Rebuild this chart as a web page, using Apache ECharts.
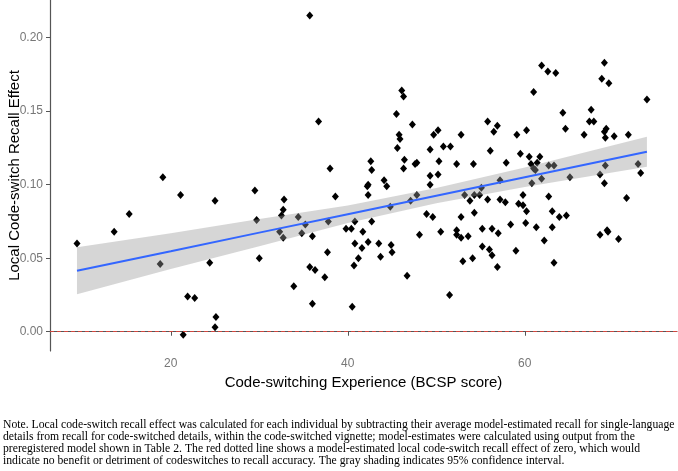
<!DOCTYPE html>
<html>
<head>
<meta charset="utf-8">
<script src="https://cdn.jsdelivr.net/npm/echarts@6/dist/echarts.min.js"></script>
<style>
  html, body { margin: 0; padding: 0; background: #fff; }
  #main { width: 678px; height: 471px; }
</style>
</head>
<body>
<div id="main"></div>
<script>
var myChart = echarts.init(document.getElementById('main'));

// BCSP score, local code-switch recall effect (one point per participant)
var points = [
    [9.4, 0.060], [13.6, 0.068], [15.3, 0.080], [19.1, 0.105], [21.1, 0.093], [25.0, 0.089],
    [18.8, 0.046], [24.4, 0.047], [21.9, 0.024], [22.7, 0.023], [25.1, 0.010], [25.0, 0.003],
    [21.4, -0.002], [35.7, 0.215], [46.1, 0.164], [46.3, 0.160], [45.5, 0.148], [47.3, 0.141],
    [36.7, 0.143], [50.2, 0.137], [49.7, 0.134], [45.8, 0.134], [45.9, 0.131], [45.6, 0.125],
    [49.3, 0.124], [50.8, 0.126], [51.6, 0.126], [52.3, 0.114], [50.3, 0.116], [46.4, 0.117],
    [47.8, 0.115], [47.6, 0.114], [46.3, 0.111], [38.0, 0.111], [42.6, 0.116], [42.7, 0.110],
    [50.2, 0.107], [49.3, 0.106], [49.3, 0.100], [44.1, 0.103], [44.4, 0.099], [42.3, 0.100],
    [42.2, 0.099], [42.3, 0.093], [29.5, 0.096], [32.8, 0.090], [38.6, 0.092], [47.8, 0.093],
    [61.9, 0.181], [62.6, 0.177], [63.5, 0.176], [69.0, 0.183], [68.7, 0.172], [69.5, 0.169],
    [61.0, 0.163], [73.8, 0.158], [64.3, 0.149], [67.5, 0.151], [67.3, 0.143], [67.8, 0.143],
    [64.6, 0.138], [55.8, 0.143], [56.9, 0.140], [56.5, 0.136], [52.8, 0.134], [59.1, 0.134],
    [60.2, 0.137], [66.7, 0.134], [69.2, 0.138], [69.0, 0.136], [69.1, 0.132], [70.1, 0.133],
    [71.7, 0.134], [56.1, 0.123], [54.2, 0.114], [57.9, 0.115], [59.5, 0.121], [60.5, 0.119],
    [61.7, 0.119], [60.7, 0.114], [61.4, 0.115], [61.0, 0.111], [61.2, 0.110], [62.7, 0.113],
    [63.3, 0.113], [69.1, 0.113], [72.8, 0.114], [68.5, 0.107], [73.1, 0.108], [69.0, 0.101],
    [65.1, 0.105], [61.9, 0.104], [60.8, 0.101], [57.2, 0.103], [55.1, 0.098], [53.2, 0.093],
    [54.3, 0.093], [54.9, 0.093], [59.8, 0.093], [62.7, 0.092], [71.5, 0.091], [50.5, 0.068],
    [53.8, 0.089], [55.8, 0.090], [57.2, 0.090], [57.8, 0.088], [59.3, 0.087], [59.8, 0.086],
    [60.2, 0.082], [63.1, 0.082], [63.9, 0.078], [64.7, 0.079], [52.8, 0.078], [54.3, 0.081],
    [55.2, 0.070], [56.3, 0.070], [57.0, 0.067], [58.4, 0.073], [60.1, 0.074], [61.3, 0.071],
    [63.1, 0.071], [62.2, 0.062], [52.3, 0.069], [52.3, 0.066], [52.8, 0.064], [53.6, 0.065],
    [55.2, 0.058], [56.0, 0.056], [56.3, 0.052], [56.9, 0.044], [59.0, 0.055], [54.1, 0.050],
    [53.0, 0.048], [63.3, 0.047], [51.5, 0.025], [68.5, 0.066], [69.3, 0.069], [69.4, 0.068],
    [70.6, 0.063], [32.7, 0.083], [32.5, 0.079], [29.7, 0.076], [32.3, 0.068], [32.7, 0.064],
    [34.4, 0.078], [35.2, 0.073], [34.8, 0.067], [36.0, 0.065], [37.8, 0.075], [30.0, 0.050],
    [37.7, 0.054], [35.7, 0.044], [36.3, 0.042], [37.4, 0.037], [33.9, 0.031], [36.0, 0.019],
    [40.5, 0.017], [39.8, 0.070], [40.4, 0.070], [40.8, 0.075], [41.7, 0.068], [42.7, 0.075],
    [40.8, 0.060], [41.6, 0.057], [42.3, 0.061], [41.2, 0.050], [40.7, 0.045], [43.5, 0.060],
    [43.7, 0.051], [44.9, 0.059], [45.0, 0.054], [44.8, 0.085], [47.1, 0.089], [48.9, 0.080],
    [49.6, 0.078], [48.1, 0.066], [46.7, 0.038]
];

// fitted line and 95% band
var fitX = [9.4, 20, 30, 40, 50, 60, 73.8];
var fitY = [0.0415, 0.0548, 0.0674, 0.0799, 0.0925, 0.1051, 0.1224];
var ciUpper = [0.0575, 0.0670, 0.0766, 0.0859, 0.0977, 0.1117, 0.1326];
var ciLower = [0.0255, 0.0426, 0.0582, 0.0739, 0.0873, 0.0985, 0.1122];

var xTicks = [20, 40, 60];
var yTicks = [0, 0.05, 0.10, 0.15, 0.20];

var noteLines = [
    'Note. Local code-switch recall effect was calculated for each individual by subtracting their average model-estimated recall for single-language',
    'details from recall for code-switched details, within the code-switched vignette; model-estimates were calculated using output from the',
    'preregistered model shown in Table 2. The red dotted line shows a model-estimated local code-switch recall effect of zero, which would',
    'indicate no benefit or detriment of codeswitches to recall accuracy. The gray shading indicates 95% confidence interval.'
];

var fitData = fitX.map(function (x, i) { return [x, fitY[i]]; });

var axisFont = 'Liberation Sans, Arial, sans-serif';

var option = {
    backgroundColor: '#fff',
    animation: false,
    grid: { left: 50, right: 1, top: 0, bottom: 120, containLabel: false, outerBoundsMode: 'none' },
    xAxis: {
        type: 'value',
        min: 6.35,
        max: 77.2,
        name: 'Code-switching Experience (BCSP score)',
        nameLocation: 'middle',
        nameGap: 22,
        nameTextStyle: { color: '#000', fontSize: 15, fontFamily: axisFont },
        axisLine: { lineStyle: { color: '#555', width: 1.2 } },
        axisTick: { show: true, length: 4, customValues: xTicks, lineStyle: { color: '#555' } },
        axisLabel: { customValues: xTicks, color: '#777', fontSize: 12, margin: 7, fontFamily: axisFont },
        splitLine: { show: false }
    },
    yAxis: {
        type: 'value',
        min: -0.0131,
        max: 0.2256,
        name: 'Local Code-switch Recall Effect',
        nameLocation: 'middle',
        nameGap: 28,
        nameMoveOverlap: false,
        nameTextStyle: { color: '#000', fontSize: 15, fontFamily: axisFont },
        axisLine: { show: true, lineStyle: { color: '#555', width: 1.2 } },
        axisTick: { show: true, length: 4, customValues: yTicks, lineStyle: { color: '#555' } },
        axisLabel: {
            customValues: yTicks, color: '#777', fontSize: 12, margin: 7, fontFamily: axisFont,
            formatter: function (v) { return v.toFixed(2); }
        },
        splitLine: { show: false }
    },
    graphic: noteLines.map(function (t, i) {
        return {
            type: 'text',
            left: 3,
            top: 419 + i * 12,
            style: { text: t, fill: '#000', fontSize: 11.7, fontFamily: 'Liberation Serif, Times New Roman, serif' }
        };
    }),
    series: [
        {
            type: 'scatter',
            data: points,
            symbol: 'diamond',
            symbolSize: [7, 8],
            itemStyle: { color: '#000', opacity: 1 },
            z: 2,
            markLine: {
                silent: true,
                symbol: 'none',
                label: { show: false },
                lineStyle: { color: '#e8453c', type: [4, 3], width: 1, opacity: 0.85 },
                data: [{ yAxis: 0 }]
            }
        },
        {
            // confidence band polygon, drawn over the points like ggplot does
            type: 'custom',
            data: [[fitX[0], fitY[0]]],
            z: 3,
            silent: true,
            renderItem: function (params, api) {
                var pts = [];
                for (var i = 0; i < fitX.length; i++) pts.push(api.coord([fitX[i], ciUpper[i]]));
                for (var j = fitX.length - 1; j >= 0; j--) pts.push(api.coord([fitX[j], ciLower[j]]));
                return {
                    type: 'polygon',
                    shape: { points: pts },
                    style: { fill: 'rgba(153,153,153,0.4)', stroke: null }
                };
            }
        },
        {
            type: 'line',
            data: fitData,
            showSymbol: false,
            lineStyle: { color: '#3366FF', width: 2 },
            z: 4
        }
    ]
};

myChart.setOption(option);
</script>
</body>
</html>
